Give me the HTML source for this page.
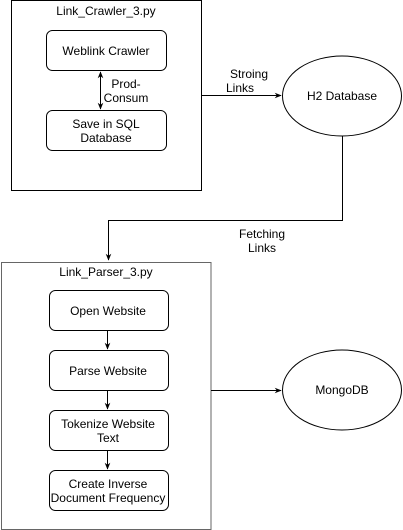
<!DOCTYPE html>
<html><head><style>body{margin:0;background:#fff}svg{display:block}text{font-family:"Liberation Sans",Arial,sans-serif;font-size:12px;fill:#000;text-anchor:middle}</style></head>
<body>
<svg width="403" height="530" viewBox="0 0 403 530">
<defs><marker id="a" viewBox="0 0 10 10" refX="9" refY="5" markerWidth="7" markerHeight="7" orient="auto-start-reverse"><path d="M0,1 L10,5 L0,9 L3,5 z" fill="#000"/></marker></defs>
<g fill="none" stroke="#000" stroke-width="1">
<rect x="11.5" y="0.5" width="190" height="190"/>
<rect x="46.5" y="30.5" width="120" height="40" rx="6"/>
<rect x="46.5" y="110.5" width="120" height="40" rx="6"/>
<line x1="100.5" y1="72" x2="100.5" y2="109" marker-start="url(#a)" marker-end="url(#a)"/>
<line x1="201.5" y1="95.5" x2="281" y2="95.5" marker-end="url(#a)"/>
<ellipse cx="342" cy="96" rx="59.5" ry="40"/>
<polyline points="342.5,136 342.5,220.5 108.5,220.5 108.5,260" marker-end="url(#a)"/>
<rect x="1.5" y="262.5" width="209.5" height="267" stroke="#666"/>
<rect x="49.5" y="290.5" width="119" height="40" rx="6"/>
<rect x="49.5" y="350.5" width="119" height="40" rx="6"/>
<rect x="49.5" y="410.5" width="119" height="40" rx="6"/>
<rect x="49.5" y="470.5" width="119" height="40" rx="6"/>
<line x1="107.5" y1="331" x2="107.5" y2="349" marker-end="url(#a)"/>
<line x1="107.5" y1="391" x2="107.5" y2="409" marker-end="url(#a)"/>
<line x1="107.5" y1="451" x2="107.5" y2="469" marker-end="url(#a)"/>
<line x1="211" y1="390.5" x2="281" y2="390.5" marker-end="url(#a)"/>
<ellipse cx="342" cy="390" rx="59.5" ry="40"/>
</g>
<text x="106" y="15">Link_Crawler_3.py</text>
<text x="106" y="55">Weblink Crawler</text>
<text x="126" y="88">Prod-</text>
<text x="126" y="102">Consum</text>
<text x="106" y="128">Save in SQL</text>
<text x="106" y="142">Database</text>
<text x="249" y="78">Stroing</text>
<text x="240" y="92">Links</text>
<text x="342" y="100">H2 Database</text>
<text x="262" y="238">Fetching</text>
<text x="262" y="252">Links</text>
<text x="106" y="276">Link_Parser_3.py</text>
<text x="108" y="315">Open Website</text>
<text x="108" y="375">Parse Website</text>
<text x="108" y="428">Tokenize Website</text>
<text x="108" y="442">Text</text>
<text x="108" y="488">Create Inverse</text>
<text x="108" y="502">Document Frequency</text>
<text x="342" y="394">MongoDB</text>
</svg>
</body></html>
